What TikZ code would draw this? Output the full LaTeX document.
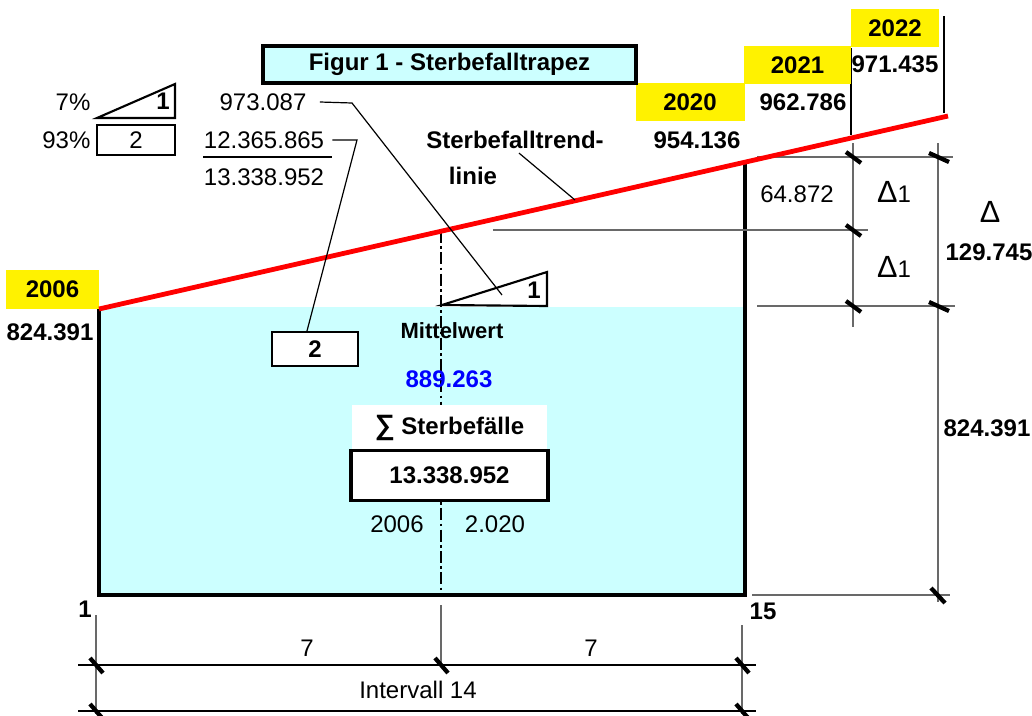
\documentclass[tikz,border=0pt]{standalone}
\usepackage{fontspec}
\setmainfont{Liberation Sans}
\usetikzlibrary{positioning}
\definecolor{lightcyan}{RGB}{204,255,255}
\definecolor{trendred}{RGB}{255,0,0}
\definecolor{dimgray}{RGB}{105,105,105}
\definecolor{meanblue}{RGB}{0,0,255}

\begin{document}
\begin{tikzpicture}[x=0.75pt,y=-0.75pt,font=\fontsize{18}{21}\selectfont]
	        \tikzstyle{yearbox}=[fill=yellow,inner sep=0pt,font=\fontsize{18}{21}\selectfont\bfseries]
	    	\tikzstyle{boldnum}=[inner sep=1pt,font=\fontsize{18}{21}\selectfont\bfseries]
	    	\tikzstyle{numtext}=[inner sep=1pt]
	    	\tikzstyle{boxframe}=[draw,line width=1.6pt,inner sep=0pt]
    		\tikzstyle{outline}=[line width=2.3pt]
    		\tikzstyle{trendline}=[draw=trendred,line width=3.6pt]
    		\tikzstyle{leaderline}=[line width=0.9pt]
	    	\tikzstyle{dimline}=[draw=dimgray,line width=0.9pt]
	    	\tikzstyle{dimtick}=[line width=3.2pt]
	    	\tikzstyle{deltatext}=[inner sep=1pt]

			\useasboundingbox (0,0) rectangle (1032,715);

			% area below the trend line
	    	\fill[lightcyan] (99,307) rectangle (745,595);
	    	\draw[outline] (99,308) -- (99,595) -- (745,595) -- (745,162);
	    	\draw[line width=1.5pt,dash pattern=on 9pt off 2.5pt on 2pt off 2.5pt] (441,231) -- (441,595);

			% dimension lines right
	    	\draw[dimline] (757,157) -- (953,157);
	    	\draw[dimline] (493,230) -- (868,230);
	    	\draw[dimline] (757,306) -- (955,306);
	    	\draw[dimline] (752,595) -- (950,595);
	    	\draw[dimline] (853,143) -- (853,327);
	    	\draw[dimline] (938,143) -- (938,602);
	    	\foreach \x/\y in {853/157,853/230,853/306}
	    		\draw[dimtick] (\x-7,\y-5) -- (\x+8,\y+6);
	    	\foreach \x/\y in {938/157,938/306}
	    		\draw[dimtick] (\x-9,\y-4) -- (\x+11,\y+5);
	    	\draw[dimtick] (931,588) -- (945,603);

			% dimension lines below
	    	\draw[dimline] (96,615) -- (96,714);
	    	\draw[dimline] (441,605) -- (441,667);
	    	\draw[dimline] (742,625) -- (742,714);
	    	\draw[leaderline] (78,665) -- (756,665);
	    	\draw[leaderline] (78,711) -- (756,711);
	    	\foreach \x in {96,441,742}
	    		\draw[dimtick] (\x-6,658) -- (\x+7,673);
	    	\foreach \x in {96,742}
	    		\draw[dimtick] (\x-6,704) -- (\x+7,719);

			% year table
	    	\draw[leaderline] (851,48) -- (851,135);
	    	\draw[leaderline] (944,16) -- (944,113);
	    	\node[yearbox,minimum width=93*0.75pt,minimum height=39*0.75pt] (y2006) at (52.5,289.5) {2006};
	    	\node[yearbox,minimum width=109*0.75pt,minimum height=38*0.75pt] (y2020) at (690,102) {2020};
	    	\node[yearbox,minimum width=107*0.75pt,minimum height=38*0.75pt] (y2021) at (797.5,65) {2021};
	    	\node[yearbox,minimum width=88*0.75pt,minimum height=38*0.75pt] (y2022) at (895,28) {2022};
	    	\node[boldnum] (v2006) at (50,332) {824.391};
	    	\node[boldnum] (v2020) at (697,140) {954.136};
	    	\node[boldnum] (v2021) at (803,102) {962.786};
	    	\node[boldnum] (v2022) at (895,64) {971.435};

			% trend line
	    	\draw[trendline] (99,309) -- (948,116);

			% title
	    	\node[draw,fill=lightcyan,line width=2.3pt,inner sep=0pt,minimum width=373*0.75pt,minimum height=37*0.75pt,font=\fontsize{18}{21}\selectfont\bfseries] (title) at (449.5,64.5) {Figur 1 - Sterbefalltrapez};

			% legend
	    	\node[numtext,anchor=east] (pct7) at (92,102) {7\%};
	    	\node[numtext,anchor=east] (pct93) at (92,140) {93\%};
	    	\draw[line width=1.6pt] (97,118) -- (175,84) -- (175,118) -- cycle;
	    	\node[boldnum] (leg1) at (163,101) {1};
	    	\node[boxframe,minimum width=78*0.75pt,minimum height=30*0.75pt] (leg2) at (136,140) {2};

			% fraction
	    	\node[numtext] (n973) at (263,102) {973.087};
	    	\node[numtext] (n12365) at (264,140) {12.365.865};
	    	\node[numtext] (n13338) at (264,177) {13.338.952};
	    	\draw[line width=1.4pt] (203,157) -- (332,157);

			% parts 1 and 2
	    	\draw[line width=1.6pt,fill=white] (442,305) -- (547,272) -- (547,306) -- cycle;
	    	\node[boldnum] (part1) at (534,290) {1};
	    	\node[boxframe,fill=white,minimum width=86*0.75pt,minimum height=34*0.75pt,font=\fontsize{18}{21}\selectfont\bfseries] (part2) at (315,349) {2};
	    	\coordinate (tip1) at (502,295);
	    	\coordinate (bend973) at (352,103);
	    	\coordinate (bend12365) at (357,140);
	    	\draw[leaderline] ([xshift=9pt]n973.east) -- (bend973) -- (tip1);
	    	\draw[leaderline] ([xshift=5pt]n12365.east) -- (bend12365) -- ([xshift=-6pt]part2.north);

			% trend label
	    	\node[boldnum] (trendA) at (515,140) {Sterbefalltrend-};
	    	\node[boldnum] (trendB) at (473,176) {linie};
	    	\coordinate (trendtip) at (575,200);
	    	\draw[leaderline] ([xshift=3pt,yshift=-2pt]trendA.south) -- (trendtip);

			% mean and sum
	    	\node[boldnum,font=\fontsize{16.5}{19}\selectfont\bfseries] (mean) at (452,331) {Mittelwert};
	    	\node[boldnum,text=meanblue] (meanval) at (449,379) {889.263};
	    	\node[fill=white,inner sep=0pt,minimum width=195*0.75pt,minimum height=45*0.75pt,font=\fontsize{18}{21}\selectfont\bfseries] (sumlabel) at (449.5,427.5) {{\fontsize{21}{21}\selectfont ∑} Sterbefälle};
	    	\node[draw,fill=white,line width=2.3pt,inner sep=0pt,minimum width=197*0.75pt,minimum height=50*0.75pt,font=\fontsize{18}{21}\selectfont\bfseries] (sumval) at (449.5,475.5) {13.338.952};
	    	\node[numtext] (from) at (397,524) {2006};
	    	\node[numtext] (to) at (495,524) {2.020};

			% right labels
	    	\node[numtext] (d64) at (797,194) {64.872};
	    	\node[deltatext] (delta1a) at (894,192) {{\fontsize{23}{23}\selectfont Δ}1};
	    	\node[deltatext] (delta1b) at (894,267) {{\fontsize{23}{23}\selectfont Δ}1};
	    	\node[deltatext,font=\fontsize{23}{23}\selectfont] (delta) at (990,212) {Δ};
	    	\node[boldnum] (d129) at (989,252) {129.745};
	    	\node[boldnum,inner sep=0pt] (d824) at (987,428) {824.391};

			% axis labels
	    	\node[boldnum] (first) at (85,609) {1};
	    	\node[boldnum] (last) at (763,611) {15};
	    	\node[numtext] (half1) at (307,648) {7};
	    	\node[numtext] (half2) at (591,648) {7};
	    	\node[numtext] (interval) at (418,690) {Intervall 14};
	    \end{tikzpicture}
\end{document}
